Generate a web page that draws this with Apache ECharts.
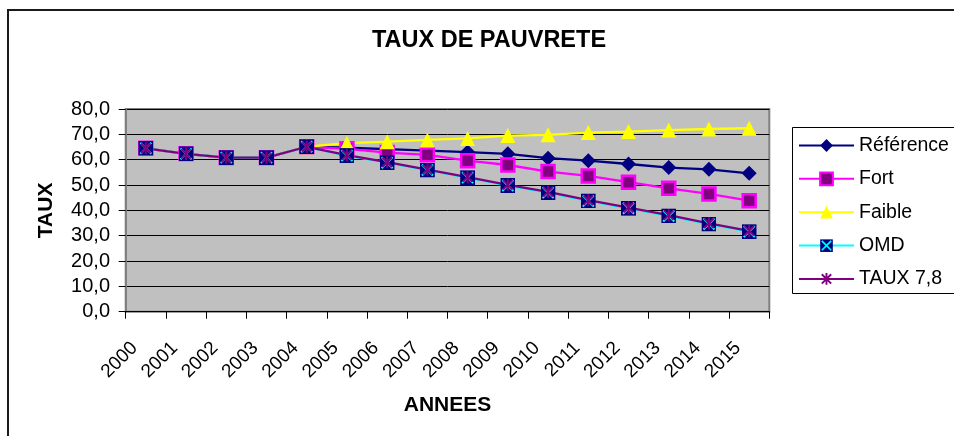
<!DOCTYPE html>
<html>
<head>
<meta charset="utf-8">
<script src="https://cdn.jsdelivr.net/npm/echarts@6/dist/echarts.min.js"></script>
<style>
html,body{margin:0;padding:0;background:#fff;}
#chart{width:954px;height:436px;}
</style>
</head>
<body>
<div id="chart"></div>
<script>
var years = ['2000','2001','2002','2003','2004','2005','2006','2007','2008','2009','2010','2011','2012','2013','2014','2015'];
var reference = [64.5, 62.3, 60.8, 60.8, 65.1, 64.7, 64.2, 63.6, 63.0, 62.3, 60.6, 59.6, 58.3, 56.9, 56.2, 54.6];
var fort      = [64.5, 62.3, 60.8, 60.8, 65.1, 64.3, 62.8, 61.9, 59.6, 57.9, 55.3, 53.6, 51.1, 48.7, 46.5, 43.8];
var faible    = [64.5, 62.3, 60.8, 60.8, 65.1, 66.5, 67.1, 67.8, 68.4, 69.5, 69.8, 70.7, 71.1, 71.7, 72.1, 72.4];
var omd       = [64.5, 62.3, 60.8, 60.8, 65.1, 61.6, 58.8, 55.9, 52.9, 49.8, 47.0, 43.7, 40.8, 37.8, 34.6, 31.6];
var taux78    = [64.5, 62.3, 60.8, 60.8, 65.1, 61.8, 59.0, 56.1, 53.1, 50.1, 47.3, 44.0, 41.1, 38.1, 34.9, 31.9];
var seriesNames = ['Référence', 'Fort', 'Faible', 'OMD', 'TAUX 7,8'];

var FONT = '"Liberation Sans", Arial, sans-serif';

function svgSymbol(svg) {
  return 'image://data:image/svg+xml;charset=utf-8,' + encodeURIComponent(svg);
}
var omdSymbol = svgSymbol("<svg xmlns='http://www.w3.org/2000/svg' width='30' height='30' viewBox='0 0 30 30'><rect x='0' y='0' width='30' height='30' fill='#000080'/><path d='M4 4L26 26M26 4L4 26' stroke='#00FFFF' stroke-width='4'/></svg>");
var tauxSymbol = svgSymbol("<svg xmlns='http://www.w3.org/2000/svg' width='30' height='30' viewBox='0 0 30 30'><path d='M15 1L15 29M4 4L26 26M26 4L4 26' stroke='#800080' stroke-width='4.5'/></svg>");

var chart = echarts.init(document.getElementById('chart'), null, {renderer: 'canvas'});
chart.setOption({
  animation: false,
  backgroundColor: '#fff',
  textStyle: {fontFamily: FONT},
  graphic: [
    {type: 'rect', shape: {x: 8, y: 10, width: 1000, height: 500}, style: {fill: 'none', stroke: '#1a1a1a', lineWidth: 2}, silent: true, z: -10},
    {type: 'rect', shape: {x: 792.5, y: 127.5, width: 300, height: 166}, style: {fill: '#fff', stroke: '#000', lineWidth: 1}, silent: true, z: -5},
    {type: 'text', x: 489, y: 40.5, style: {text: 'TAUX DE PAUVRETE', font: 'bold 23.5px ' + FONT, fill: '#000', textAlign: 'center', textVerticalAlign: 'middle'}}
  ],
  grid: {
    left: 125.7, right: 184.7, top: 109, bottom: 124.3,
    show: true, backgroundColor: '#C0C0C0', borderColor: '#808080', borderWidth: 2
  },
  legend: {
    orient: 'vertical', left: 792, top: 127,
    padding: [8.5, 10, 6, 6],
    itemWidth: 55, itemHeight: 16, itemGap: 13.35,
    textStyle: {fontSize: 19.5, color: '#000', fontFamily: FONT},
    data: seriesNames
  },
  xAxis: {
    type: 'category', data: years, boundaryGap: true,
    name: 'ANNEES', nameLocation: 'middle', nameGap: 83,
    nameTextStyle: {fontSize: 21, fontWeight: 'bold', color: '#000', fontFamily: FONT},
    axisLine: {show: true, lineStyle: {color: '#000', width: 1}},
    axisTick: {show: true, alignWithLabel: false, length: 7, lineStyle: {color: '#000'}},
    axisLabel: {rotate: 45, interval: 0, margin: 22, padding: [0, 16, 0, 0], fontSize: 19, color: '#000', fontFamily: FONT},
    splitLine: {show: false}
  },
  yAxis: {
    type: 'value', min: 0, max: 80, interval: 10,
    name: 'TAUX', nameLocation: 'middle', nameGap: 69, nameRotate: 90,
    nameTextStyle: {fontSize: 21, fontWeight: 'bold', color: '#000', fontFamily: FONT},
    axisLine: {show: true, lineStyle: {color: '#808080', width: 2}},
    axisTick: {show: true, length: 7, lineStyle: {color: '#000'}},
    axisLabel: {margin: 15.7, fontSize: 20, color: '#000', fontFamily: FONT,
      formatter: function (v) { return v.toFixed(1).replace('.', ','); }},
    splitLine: {show: true, lineStyle: {color: '#000', width: 1}}
  },
  series: [
    {name: seriesNames[0], type: 'line', data: reference, symbol: 'diamond', symbolSize: 15,
      lineStyle: {color: '#000080', width: 2.3}, itemStyle: {color: '#000080'}},
    {name: seriesNames[1], type: 'line', data: fort, symbol: 'rect', symbolSize: 13,
      lineStyle: {color: '#FF00FF', width: 2.3}, itemStyle: {color: '#800080', borderColor: '#FF00FF', borderWidth: 2.5}},
    {name: seriesNames[2], type: 'line', data: faible, symbol: 'triangle', symbolSize: 15,
      lineStyle: {color: '#FFFF00', width: 2.3}, itemStyle: {color: '#FFFF00'}},
    {name: seriesNames[3], type: 'line', data: omd, symbol: omdSymbol, symbolSize: 15,
      lineStyle: {color: '#00FFFF', width: 2.3}, itemStyle: {color: '#00FFFF'}},
    {name: seriesNames[4], type: 'line', data: taux78, symbol: tauxSymbol, symbolSize: 13,
      lineStyle: {color: '#800080', width: 2.3}, itemStyle: {color: '#800080'}}
  ]
});
</script>
</body>
</html>
